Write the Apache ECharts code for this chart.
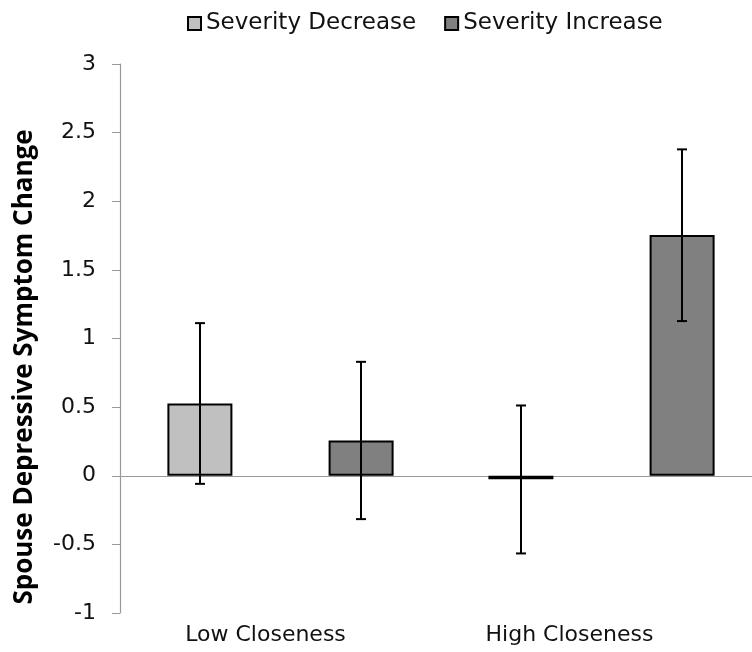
<!DOCTYPE html>
<html><head><meta charset="utf-8">
<script src="https://cdn.jsdelivr.net/npm/echarts@6/dist/echarts.min.js"></script>
<style>html,body{margin:0;padding:0;background:#fff;overflow:hidden}#c{width:762px;height:652px}</style>
</head><body><div id="c"></div>
<script>
var categories = ['Low Closeness', 'High Closeness'];
var seriesNames = ['Severity Decrease', 'Severity Increase'];
var decreaseValues = [0.527, -0.025];
var increaseValues = [0.257, 1.754];
var decreaseLow = [-0.059, -0.566];
var decreaseHigh = [1.112, 0.512];
var increaseLow = [-0.316, 1.127];
var increaseHigh = [0.830, 2.378];
var yTitle = 'Spouse Depressive Symptom Change';

var chart = echarts.init(document.getElementById('c'), null, {renderer: 'canvas'});
var font = 'DejaVu Sans';
// label horizontal shifts (px, left) to mimic original placement
var labelPad = [30, 64];

function errSeries(lows, highs, side) {
  var data = lows.map(function (l, i) { return [i, l, highs[i]]; });
  return {
    type: 'custom', xAxisIndex: 0, yAxisIndex: 0, z: 10, silent: true,
    data: data,
    renderItem: function (params, api) {
      var i = api.value(0);
      var catW = api.size([1, 0])[0];
      var lo = api.coord([i, api.value(1)]);
      var hi = api.coord([i, api.value(2)]);
      var x = lo[0] + side * catW * 0.2508;
      var cap = 5;
      var st = {stroke: '#000', lineWidth: 2};
      return {type: 'group', children: [
        {type: 'line', shape: {x1: x, y1: lo[1], x2: x, y2: hi[1]}, style: st},
        {type: 'line', shape: {x1: x - cap, y1: lo[1], x2: x + cap, y2: lo[1]}, style: st},
        {type: 'line', shape: {x1: x - cap, y1: hi[1], x2: x + cap, y2: hi[1]}, style: st}
      ]};
    }
  };
}

chart.setOption({
  animation: false,
  backgroundColor: '#fff',
  textStyle: {fontFamily: font},
  legend: {
    top: 7, left: 182,
    icon: 'rect',
    itemWidth: 13, itemHeight: 13, itemGap: 28,
    textStyle: {fontFamily: font, fontSize: 23, color: '#111'},
    data: seriesNames
  },
  grid: {left: 120, top: 64, right: 0, bottom: 39, containLabel: false},
  xAxis: [{
    type: 'category', position: 'bottom',
    data: categories.map(function (c, i) {
      return {value: c, textStyle: {padding: [0, labelPad[i], 0, 0]}};
    }),
    axisLine: {show: false, onZero: false}, axisTick: {show: false},
    axisLabel: {fontFamily: font, fontSize: 22, color: '#111', margin: 11}
  }, {
    type: 'category', data: categories,
    axisLine: {show: true, onZero: true, lineStyle: {color: '#999', width: 1.2}},
    axisTick: {show: false}, axisLabel: {show: false}
  }],
  yAxis: {
    type: 'value', min: -1, max: 3, interval: 0.5,
    axisLine: {show: true, lineStyle: {color: '#999', width: 1.2}},
    axisTick: {show: true, inside: false, length: 8, lineStyle: {color: '#999'}},
    axisLabel: {fontFamily: font, fontSize: 22, color: '#111', margin: 24},
    splitLine: {show: false}
  },
  graphic: [{
    type: 'text', x: 25, y: 367, rotation: Math.PI / 2,
    style: {text: yTitle, fontFamily: 'Open Sans', fontWeight: 'bold', fontSize: 26, fill: '#000', align: 'center', verticalAlign: 'middle'}
  }],
  series: [{
    name: seriesNames[0], type: 'bar', data: decreaseValues,
    barWidth: 65, barGap: '148%',
    itemStyle: {color: '#c0c0c0', borderColor: '#000', borderWidth: 2}
  }, {
    name: seriesNames[1], type: 'bar', data: increaseValues,
    barWidth: 65, barGap: '148%',
    itemStyle: {color: '#808080', borderColor: '#000', borderWidth: 2}
  },
  errSeries(decreaseLow, decreaseHigh, -1),
  errSeries(increaseLow, increaseHigh, 1)]
});
</script></body></html>
